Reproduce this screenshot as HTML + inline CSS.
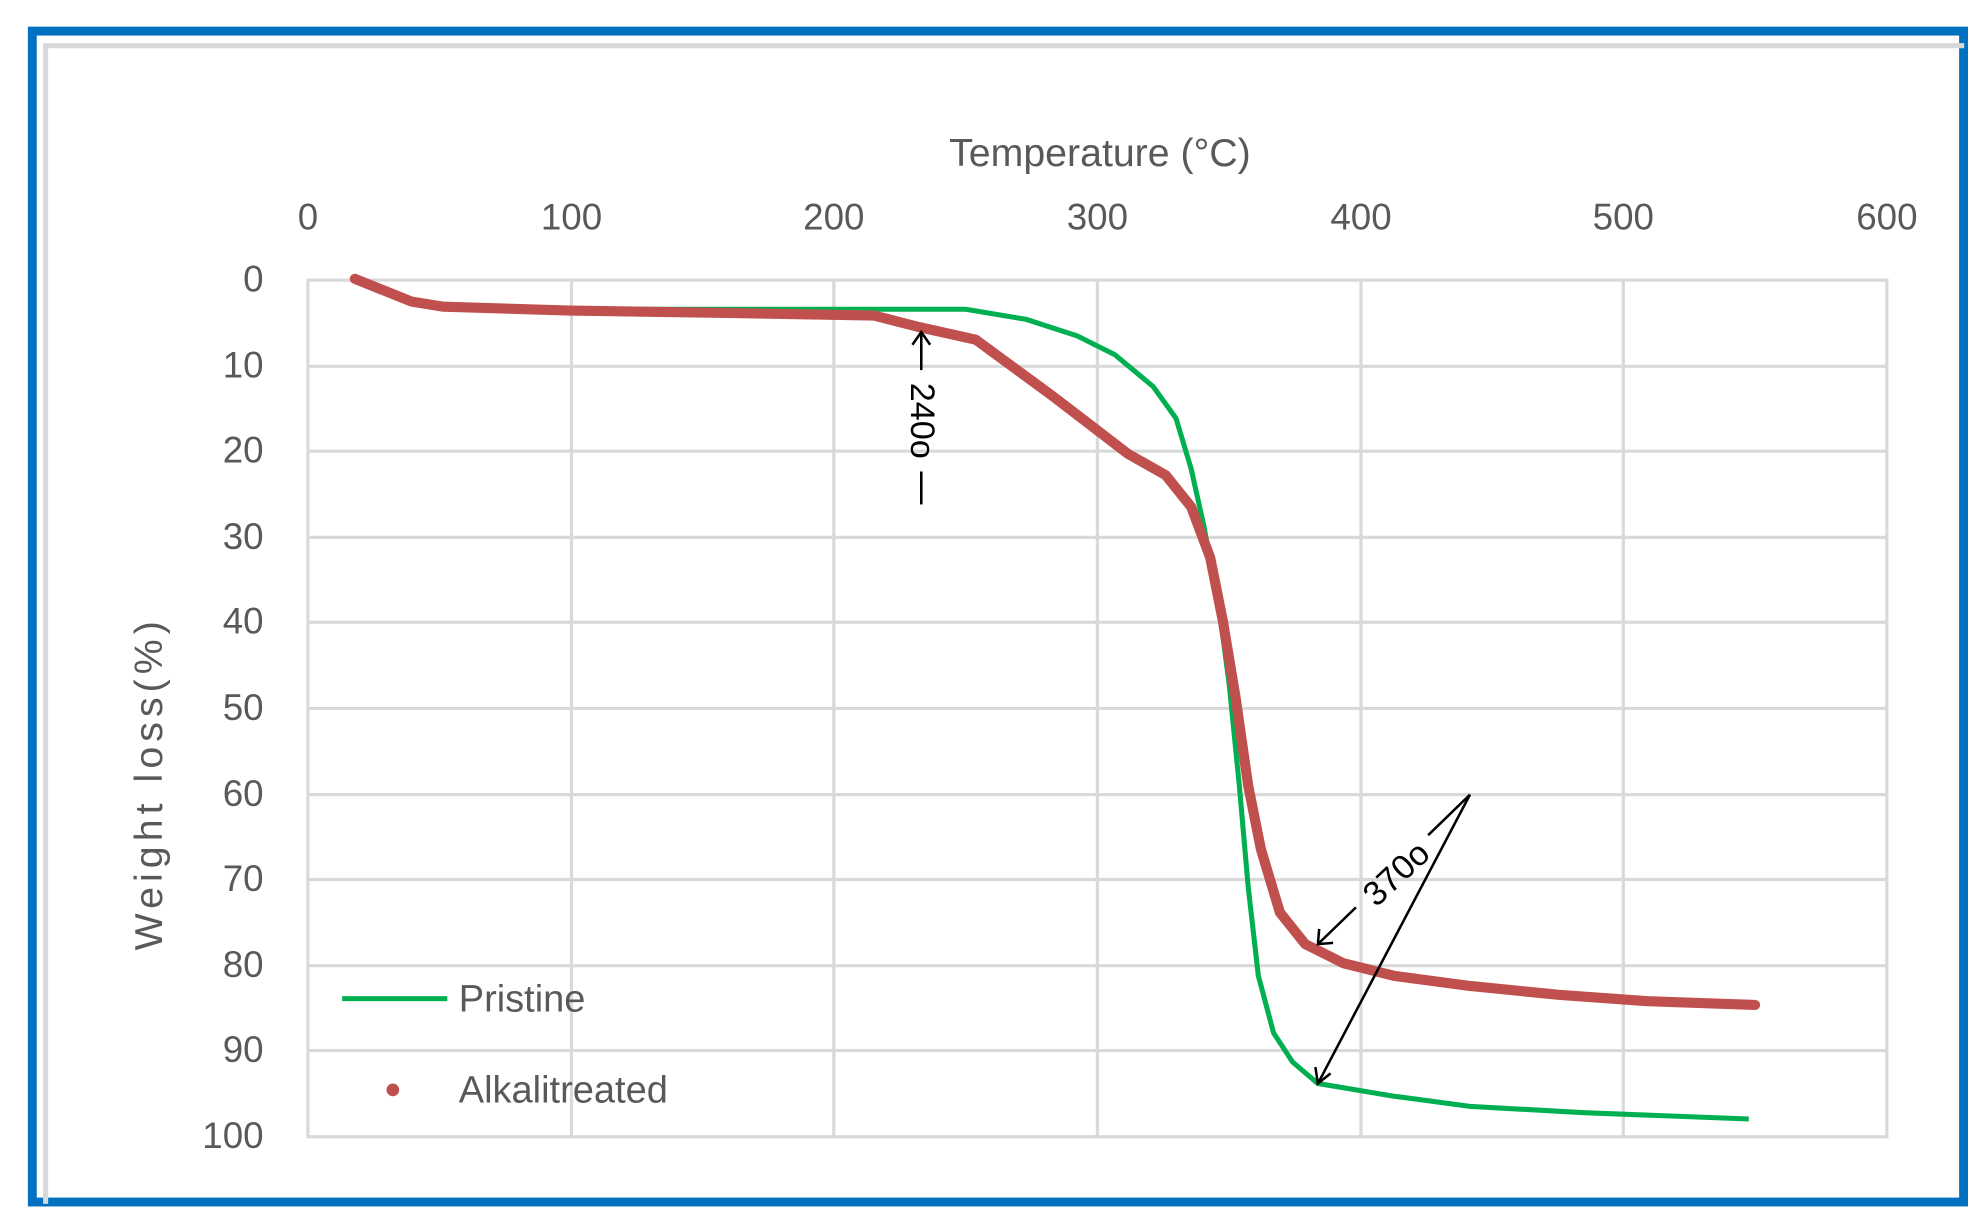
<!DOCTYPE html>
<html><head><meta charset="utf-8"><style>
html,body{margin:0;padding:0;background:#fff}
svg{display:block}
text{font-family:"Liberation Sans",sans-serif}
</style></head><body>
<svg width="1987" height="1223" viewBox="0 0 1568 965" xmlns="http://www.w3.org/2000/svg">
<rect x="0" y="0" width="1568" height="965" fill="#fff"/>
<rect x="25.5" y="24.5" width="1524" height="924" fill="none" stroke="#0070c0" stroke-width="7"/>
<path d="M36 950 V36 H1550" fill="none" stroke="#d9d9d9" stroke-width="4"/>
<g stroke="#d9d9d9" stroke-width="2.5" fill="none">
<line x1="243" y1="289" x2="1489" y2="289"/><line x1="243" y1="356" x2="1489" y2="356"/>
<line x1="243" y1="424" x2="1489" y2="424"/><line x1="243" y1="491" x2="1489" y2="491"/>
<line x1="243" y1="559" x2="1489" y2="559"/><line x1="243" y1="627" x2="1489" y2="627"/>
<line x1="243" y1="694" x2="1489" y2="694"/><line x1="243" y1="762" x2="1489" y2="762"/>
<line x1="243" y1="829" x2="1489" y2="829"/>
<line x1="451" y1="221" x2="451" y2="897"/><line x1="658" y1="221" x2="658" y2="897"/>
<line x1="866" y1="221" x2="866" y2="897"/><line x1="1074" y1="221" x2="1074" y2="897"/>
<line x1="1281" y1="221" x2="1281" y2="897"/>
<rect x="243" y="221" width="1246" height="676"/>
</g>
<g fill="#595959" font-size="29" text-anchor="middle">
<text x="868" y="131" font-size="31">Temperature (°C)</text>
<text x="243" y="181">0</text><text x="451" y="181">100</text><text x="658" y="181">200</text>
<text x="866" y="181">300</text><text x="1074" y="181">400</text><text x="1281" y="181">500</text><text x="1489" y="181">600</text>
</g>
<g fill="#595959" font-size="29" text-anchor="end">
<text x="208" y="230">0</text><text x="208" y="298">10</text><text x="208" y="365">20</text>
<text x="208" y="433">30</text><text x="208" y="500">40</text><text x="208" y="568">50</text>
<text x="208" y="636">60</text><text x="208" y="703">70</text><text x="208" y="771">80</text>
<text x="208" y="838">90</text><text x="208" y="906">100</text>
</g>
<text transform="translate(128,618) rotate(-90)" fill="#595959" font-size="31" text-anchor="middle" letter-spacing="4">Weight loss(%)</text>
<polyline fill="none" stroke="#00b050" stroke-width="4" stroke-linejoin="round" points="280,222 310,233 330,240 350,243 450,244 600,244 762,244 810,252 850,265 880,280 910,305 928,330 940,370 950,415 962,480 970,540 978,620 985,700 993,770 1005,815 1020,838 1040,855 1070,860 1100,865 1160,873 1250,878 1380,883"/>
<polyline fill="none" stroke="#c0504d" stroke-width="8" stroke-linejoin="round" stroke-linecap="round" points="280,220 300,228 325,238 350,242 450,245 580,247 690,249 725,258 770,268 800,290 830,312 860,335 890,358 920,375 940,400 955,440 965,490 975,550 985,620 995,670 1010,720 1030,745 1060,760 1100,770 1160,778 1230,785 1300,790 1385,793"/>
<line x1="270" y1="788" x2="353" y2="788" stroke="#00b050" stroke-width="4"/>
<text x="362" y="798" fill="#595959" font-size="30">Pristine</text>
<circle cx="310" cy="860" r="5" fill="#c0504d"/>
<text x="362" y="870" fill="#595959" font-size="30">Alkalitreated</text>
<g stroke="#000" stroke-width="2" fill="none">
<line x1="727" y1="262" x2="727" y2="292"/><line x1="727" y1="372" x2="727" y2="398"/>
<path d="M720 272 L727 262 L734 272"/>
<line x1="1160" y1="627" x2="1127" y2="659"/><line x1="1070" y1="716" x2="1040" y2="745"/>
<path d="M1041 733 L1040 745 L1052 744"/>
<line x1="1160" y1="627" x2="1040" y2="855"/>
<path d="M1038 842 L1040 855 L1050 847"/>
</g>
<text transform="translate(719,332) rotate(90)" font-size="27" text-anchor="middle" fill="#000">240o</text>
<text transform="translate(1108,696) rotate(-43)" font-size="27" text-anchor="middle" fill="#000">370o</text>
</svg>
</body></html>
